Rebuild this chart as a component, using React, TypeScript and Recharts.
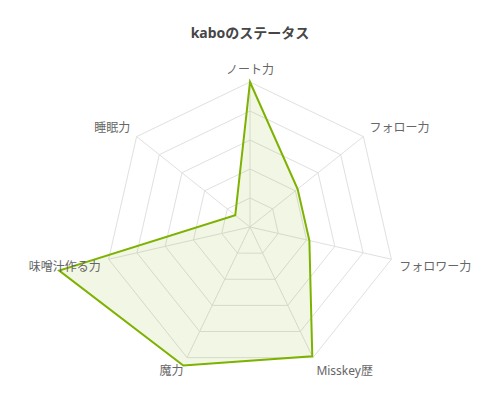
import { PolarAngleAxis, PolarGrid, PolarRadiusAxis, Radar, RadarChart } from "recharts"

const title = "kaboのステータス"

const stats = ["ノート力", "フォロー力", "フォロワー力", "Misskey歴", "魔力", "味噌汁作る力", "睡眠力"]
const values = [100, 42, 42, 99, 106, 135, 13]
const scaleMax = 100

const data = stats.map((stat, i) => ({ stat, value: values[i] }))

const CX = 250
const CY = 227
const FONT = "'Noto Sans', 'Noto Sans CJK JP', sans-serif"

function AngleTick(props: any) {
  const { x, y, textAnchor, payload } = props
  const below = y > CY + 1
  return (
    <text
      x={x}
      y={y}
      textAnchor={textAnchor}
      dominantBaseline={below ? "hanging" : "auto"}
      fill="#666"
      fontSize={12}
      fontFamily={FONT}
    >
      {payload.value}
    </text>
  )
}

export default function App() {
  return (
    <div style={{ position: "absolute", left: 0, top: 0, width: 500, height: 400, background: "#fff" }}>
      <svg width={500} height={50} style={{ position: "absolute", left: 0, top: 0 }}>
        <text
          x={250}
          y={38}
          textAnchor="middle"
          fontSize={14}
          fontWeight="bold"
          fill="#464646"
          fontFamily={FONT}
        >
          {title}
        </text>
      </svg>
      <RadarChart width={500} height={400} data={data} cx={CX} cy={CY} outerRadius={145}>
        <PolarGrid stroke="#e0e0e0" />
        <PolarAngleAxis dataKey="stat" tick={<AngleTick />} tickLine={false} axisLine={false} />
        <PolarRadiusAxis
          domain={[0, scaleMax]}
          tickCount={6}
          allowDataOverflow
          tick={false}
          axisLine={false}
        />
        <Radar
          dataKey="value"
          stroke="#7db200"
          strokeWidth={2}
          fill="#7db200"
          fillOpacity={0.1}
          dot={false}
          isAnimationActive={false}
        />
      </RadarChart>
    </div>
  )
}
